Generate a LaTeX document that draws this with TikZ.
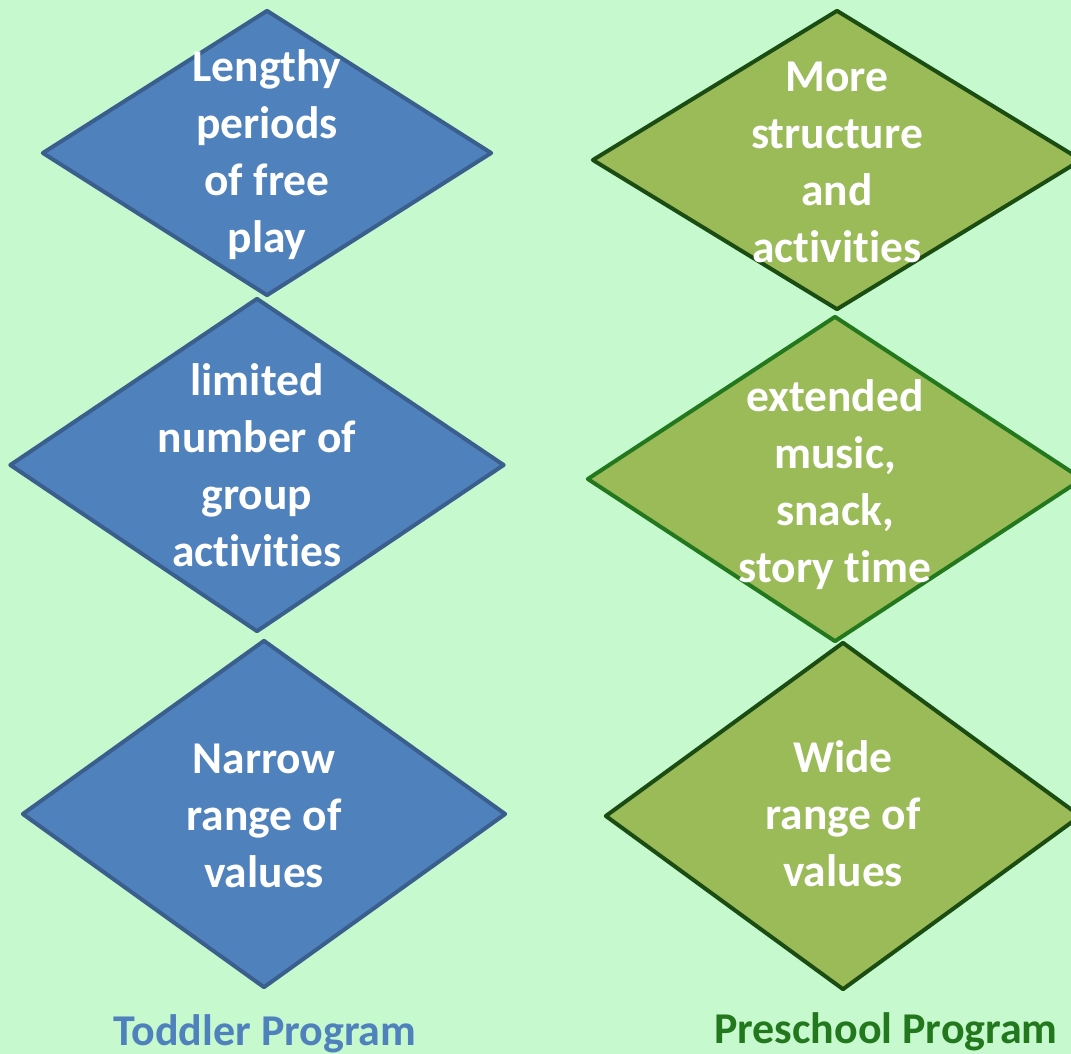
\documentclass[tikz,border=0pt]{standalone}
\usepackage{fontspec}
\setmainfont{Carlito}[Ligatures=NoCommon]
\usetikzlibrary{shapes.geometric}
\definecolor{bgmint}{RGB}{198,249,206}
\definecolor{tblue}{RGB}{79,129,189}
\definecolor{tblueline}{RGB}{58,95,141}
\definecolor{pgreen}{RGB}{155,187,89}
\definecolor{pgreenline}{RGB}{27,77,18}
\definecolor{pgreenmid}{RGB}{35,120,30}
\begin{document}
\begin{tikzpicture}[x=1pt, y=-1pt, line join=round,
    toddler/.style={diamond, draw=tblueline, fill=tblue, line width=4pt, inner sep=0pt},
    preschool/.style={diamond, draw=pgreenline, fill=pgreen, line width=4pt, inner sep=0pt},
    txt/.style={text=white, align=center, font=\bfseries\fontsize{45.5}{57}\selectfont},
    lbl/.style={anchor=base, font=\bfseries\fontsize{44}{50}\selectfont}]
    \fill[bgmint] (0,0) rectangle (1071,1054);
    \clip (0,0) rectangle (1071,1054);
    % toddler column
    \node[toddler, minimum width=450pt, minimum height=286pt] (t1) at (267,153) {};
    \node[toddler, minimum width=495pt, minimum height=334pt] (t2) at (257,465) {};
    \node[toddler, minimum width=484pt, minimum height=348pt] (t3) at (264,814) {};
    \node[txt] (t1txt) at ([yshift=-2pt]t1.center) {Lengthy\\periods\\of free\\play};
    \node[txt] (t2txt) at (t2) {limited\\number of\\group\\activities};
    \node[txt] (t3txt) at ([yshift=-2pt]t3.center) {Narrow\\range of\\values};
    % preschool column
    \node[preschool, minimum width=490pt, minimum height=300pt] (p1) at (837,160) {};
    \node[preschool, draw=pgreenmid, minimum width=496pt, minimum height=326pt] (p2) at (835,479) {};
    \node[preschool, minimum width=476pt, minimum height=348pt] (p3) at (843,816) {};
    \node[txt] (p1txt) at ([yshift=-2pt]p1.center) {More\\structure\\and\\activities};
    \node[txt] (p2txt) at ([yshift=-6pt]p2.center) {extended\\music,\\snack,\\story time};
    \node[txt] (p3txt) at ([yshift=2pt]p3.center) {Wide\\range of\\values};
    % column titles
    \node[lbl, text=tblue] (tlab) at (265,1045) {Toddler Program};
    \node[lbl, text=pgreenmid] (plab) at (886,1043) {Preschool Program};
\end{tikzpicture}
\end{document}
